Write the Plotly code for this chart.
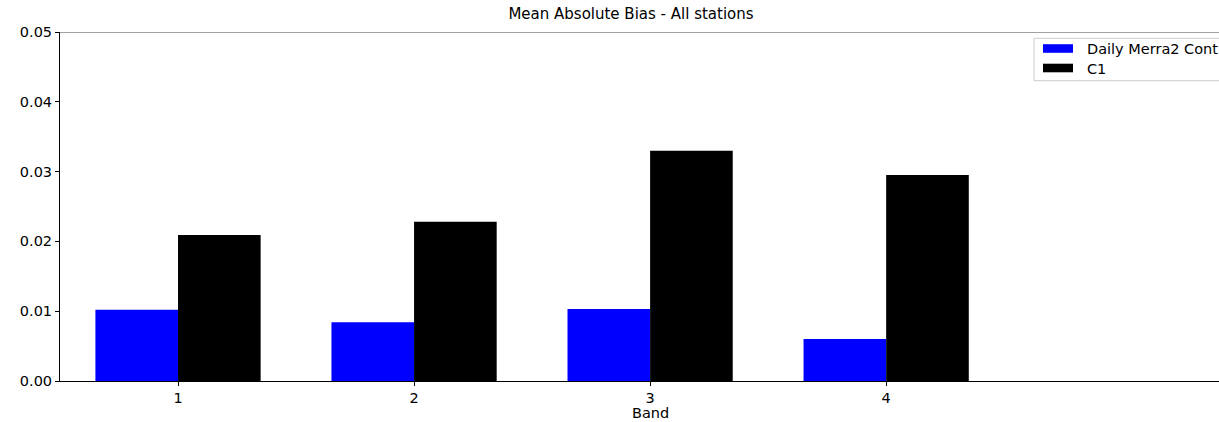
import plotly.graph_objects as go

bands = [1, 2, 3, 4]
merra2_values = [0.0102, 0.0084, 0.0103, 0.0060]
c1_values = [0.0209, 0.0228, 0.0330, 0.0295]
series_names = ["Daily Merra2 Cont", "C1"]
series_colors = ["#0000ff", "#000000"]
y_tick_values = [0.00, 0.01, 0.02, 0.03, 0.04, 0.05]

FONT = "DejaVu Sans"
W, H = 1219, 422
L, R, T, B = 60, 0, 32, 41
plot_w = W - L - R
plot_h = H - T - B


def px(xp):
    return (xp - L) / plot_w


def py(yp):
    return (H - B - yp) / plot_h


fig = go.Figure()
fig.add_trace(go.Bar(x=bands, y=merra2_values, name=series_names[0],
                     marker=dict(color=series_colors[0], line=dict(width=0))))
fig.add_trace(go.Bar(x=bands, y=c1_values, name=series_names[1],
                     marker=dict(color=series_colors[1], line=dict(width=0))))

fig.update_layout(
    width=W, height=H,
    margin=dict(l=L, r=R, t=T, b=B, pad=0),
    barmode="group", bargap=0.3, bargroupgap=0,
    plot_bgcolor="white", paper_bgcolor="white",
    font=dict(family=FONT, size=14.5, color="#000000"),
    title=dict(text="Mean Absolute Bias - All stations",
               x=px(631), xref="paper", xanchor="center",
               y=1 - 14 / H, yref="container", yanchor="middle",
               font=dict(family=FONT, size=15, color="#000000")),
    showlegend=False,
    xaxis=dict(range=[0.5, 5.41], tickvals=bands, ticktext=[str(b) for b in bands],
               showgrid=False, zeroline=False, showline=True, linecolor="#000000",
               linewidth=1, ticks="outside", ticklen=4, tickcolor="#000000",
               tickfont=dict(family=FONT, size=14.5, color="#000000")),
    yaxis=dict(range=[0, 0.05], tickvals=y_tick_values, tickformat=".2f",
               showgrid=False, zeroline=False, showline=True, linecolor="#000000",
               linewidth=1, ticks="outside", ticklen=4, tickcolor="#000000",
               tickfont=dict(family=FONT, size=14.5, color="#000000")),
)

# top spine
fig.add_shape(type="line", xref="paper", yref="y", x0=0, x1=1, y0=0.05, y1=0.05,
              line=dict(color="#444444", width=1))

# x-axis label
fig.add_annotation(text="Band", xref="paper", yref="paper",
                   x=px(650), y=py(413),
                   xanchor="center", yanchor="middle", showarrow=False,
                   font=dict(family=FONT, size=14.5, color="#000000"))

# matplotlib-style legend (cropped at the right edge like the reference)
fig.add_shape(type="rect", xref="paper", yref="paper", layer="above",
              x0=px(1034), x1=px(1240), y0=py(80.7), y1=py(38.3),
              fillcolor="rgba(255,255,255,0.9)", line=dict(color="#cccccc", width=1))
row_centers = [48.5, 68]
for name, color, yc in zip(series_names, series_colors, row_centers):
    fig.add_shape(type="rect", xref="paper", yref="paper", layer="above",
                  x0=px(1043), x1=px(1073), y0=py(yc + 4.3), y1=py(yc - 4.3),
                  fillcolor=color, line=dict(width=0))
    fig.add_annotation(text=name, xref="paper", yref="paper",
                       x=px(1085), y=py(yc + 0.5), xanchor="left", yanchor="middle",
                       showarrow=False,
                       font=dict(family=FONT, size=14.5, color="#000000"))

fig.write_html("out.html")
